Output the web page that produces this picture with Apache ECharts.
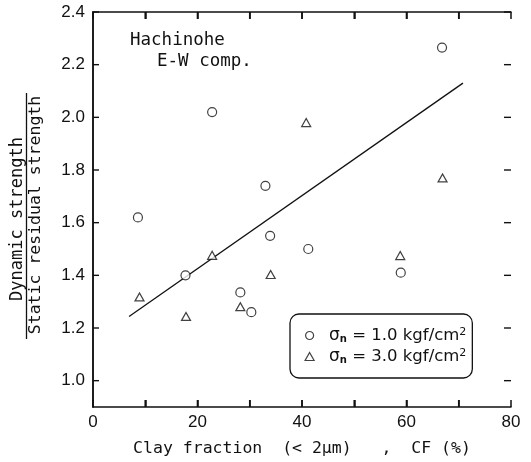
<!DOCTYPE html>
<html>
<head>
<meta charset="utf-8">
<script src="https://cdn.jsdelivr.net/npm/echarts@6/dist/echarts.min.js"></script>
<style>html,body{margin:0;padding:0;background:#fff;}#c{width:531px;height:462px;}</style>
</head>
<body>
<div id="c"></div>
<script>
// Data
const cf1 = [8.6, 22.8, 33.0, 33.9, 66.8, 17.7, 28.2, 30.3, 41.2, 58.9];
const ratio1 = [1.62, 2.02, 1.74, 1.55, 2.265, 1.40, 1.335, 1.26, 1.50, 1.41];
const cf3 = [40.8, 66.9, 22.8, 8.9, 17.8, 28.2, 34.0, 58.8];
const ratio3 = [1.98, 1.77, 1.476, 1.318, 1.244, 1.281, 1.403, 1.475];
const trendCF = [6.9, 70.8];
const trendRatio = [1.244, 2.13];
const xTickLabels = [0, 20, 40, 60, 80];
const xTickMarks = [10, 20, 30, 40, 50, 60, 70];
const yTickLabels = [1.0, 1.2, 1.4, 1.6, 1.8, 2.0, 2.2, 2.4];
const name1 = 'σn = 1.0 kgf/cm2';
const name3 = 'σn = 3.0 kgf/cm2';

const zip = (a, b) => a.map((v, i) => [v, b[i]]);
const FONT = 'DejaVu Sans';
const MONO = 'DejaVu Sans Mono';
const INK = '#111';
const X_MIN = 0, X_MAX = 80, Y_MIN = 0.9, Y_MAX = 2.4;
const Y_MID = (Y_MIN + Y_MAX) / 2, X_MID = (X_MIN + X_MAX) / 2;

const chart = echarts.init(document.getElementById('c'), null, {renderer: 'canvas'});

const axisLine = {show: true, lineStyle: {color: INK, width: 1.5}};
const xTick = {show: true, inside: true, length: 7, lineStyle: {color: INK, width: 1.5}};
const xLabelFmt = v => (xTickLabels.indexOf(v) >= 0 ? String(v) : '');

chart.setOption({
  backgroundColor: '#fff',
  animation: false,
  grid: {left: 93, right: 20, top: 12, bottom: 51},
  xAxis: [{
    type: 'value', min: X_MIN, max: X_MAX, interval: 10, position: 'bottom',
    axisLine: axisLine, axisTick: xTick,
    axisLabel: {margin: 7, color: INK, fontFamily: 'Liberation Sans', fontSize: 17, formatter: xLabelFmt},
    splitLine: {show: false},
    name: 'Clay fraction  (< 2μm)   ,  CF (%)',
    nameLocation: 'middle', nameGap: 33,
    nameTextStyle: {color: INK, fontFamily: MONO, fontSize: 16.5}
  }, {
    type: 'value', min: X_MIN, max: X_MAX, interval: 10, position: 'top',
    axisLine: axisLine, axisTick: xTick,
    axisLabel: {show: false},
    splitLine: {show: false}
  }],
  yAxis: [{
    type: 'value', min: Y_MIN, max: Y_MAX, position: 'left',
    axisLine: axisLine,
    axisTick: {show: false},
    axisLabel: {customValues: yTickLabels, margin: 8, color: INK, fontFamily: 'Liberation Sans', fontSize: 17,
      formatter: v => Number(v).toFixed(1)},
    splitLine: {show: false}
  }, {
    type: 'value', min: Y_MIN, max: Y_MAX, position: 'right',
    axisLine: axisLine,
    axisTick: {show: false},
    axisLabel: {show: false},
    splitLine: {show: false}
  }],
  legend: {
    orient: 'vertical', left: 290, top: 314,
    padding: [13, 6, 12, 14.5],
    itemWidth: 9, itemHeight: 8, itemGap: 3,
    borderColor: INK, borderWidth: 1.3, borderRadius: 9,
    backgroundColor: '#fff',
    data: [
      {name: name1, icon: 'circle', itemStyle: {color: '#fff', borderColor: INK, borderWidth: 1.2}},
      {name: name3, icon: 'triangle', itemStyle: {color: '#fff', borderColor: INK, borderWidth: 1.2}}
    ],
    formatter: function (n) {
      const m = n.match(/^σn = (.*) kgf\/cm2$/);
      return '{s|σ}{sub|n}{t| = ' + m[1] + ' kgf/cm}{sup|2}';
    },
    textStyle: {
      color: INK, fontFamily: FONT, fontSize: 16.5, lineHeight: 17,
      rich: {
        s: {fontFamily: FONT, fontSize: 17, color: INK, padding: [0, 0, 0, 10]},
        sub: {fontFamily: FONT, fontSize: 10, fontWeight: 'bold', color: INK, verticalAlign: 'bottom', lineHeight: 10, padding: [6, 0, 0, 0]},
        t: {fontFamily: FONT, fontSize: 16.5, color: INK},
        sup: {fontFamily: FONT, fontSize: 11, color: INK, verticalAlign: 'top', padding: [0, 0, 7, 0], lineHeight: 11}
      }
    }
  },
  graphic: [
    {type: 'text', x: 130, y: 40.5, style: {text: 'Hachinohe', align: 'left', verticalAlign: 'middle', font: '17.5px "' + MONO + '"', fill: INK}},
    {type: 'text', x: 157, y: 61.5, style: {text: 'E-W comp.', align: 'left', verticalAlign: 'middle', font: '17.5px "' + MONO + '"', fill: INK}},
    {type: 'text', x: 17.5, y: 219, rotation: Math.PI / 2,
      style: {text: 'Dynamic strength', align: 'center', verticalAlign: 'middle', font: '17px "' + MONO + '"', fill: INK}},
    {type: 'text', x: 35.5, y: 215, rotation: Math.PI / 2,
      style: {text: 'Static residual strength', align: 'center', verticalAlign: 'middle', font: '16.5px "' + MONO + '"', fill: INK}},
    {type: 'line', shape: {x1: 26.5, y1: 93, x2: 26.5, y2: 339}, style: {stroke: INK, lineWidth: 1.3}}
  ],
  series: [
    {
      type: 'line', name: 'trend', data: zip(trendCF, trendRatio),
      symbol: 'none', lineStyle: {color: INK, width: 1.3}, z: 1, silent: true
    },
    {
      type: 'scatter', name: name1, data: zip(cf1, ratio1),
      symbol: 'circle', symbolSize: 9,
      itemStyle: {color: '#fff', borderColor: INK, borderWidth: 1.2}, z: 3
    },
    {
      type: 'scatter', name: name3, data: zip(cf3, ratio3),
      symbol: 'triangle', symbolSize: [9, 8],
      itemStyle: {color: '#fff', borderColor: INK, borderWidth: 1.2}, z: 3
    },
    {
      // inward y ticks (left and right) at the labelled values, placed through the axis scale
      type: 'custom', name: 'yTicks', clip: false, z: 5,
      data: yTickLabels.map(v => [X_MID, v]),
      encode: {x: 0, y: 1},
      renderItem: function (params, api) {
        const v = api.value(1);
        const pl = api.coord([X_MIN, v]);
        const pr = api.coord([X_MAX, v]);
        return {type: 'group', children: [
          {type: 'rect', shape: {x: pl[0], y: pl[1] - 0.7, width: 6, height: 1.4}, style: {fill: INK}},
          {type: 'rect', shape: {x: pr[0] - 7, y: pr[1] - 0.7, width: 7, height: 1.4}, style: {fill: INK}}
        ]};
      }
    },
    {
      // inward x ticks (bottom and top) every 10 %, placed through the axis scale
      type: 'custom', name: 'xTicks', clip: false, z: 5,
      data: xTickMarks.map(v => [v, Y_MID]),
      encode: {x: 0, y: 1},
      renderItem: function (params, api) {
        const v = api.value(0);
        const pb = api.coord([v, Y_MIN]);
        const pt = api.coord([v, Y_MAX]);
        return {type: 'group', children: [
          {type: 'rect', shape: {x: pb[0] - 0.8, y: pb[1] - 7, width: 1.6, height: 7}, style: {fill: INK}},
          {type: 'rect', shape: {x: pt[0] - 0.8, y: pt[1], width: 1.6, height: 7}, style: {fill: INK}}
        ]};
      }
    }
  ]
});
</script>
</body>
</html>
